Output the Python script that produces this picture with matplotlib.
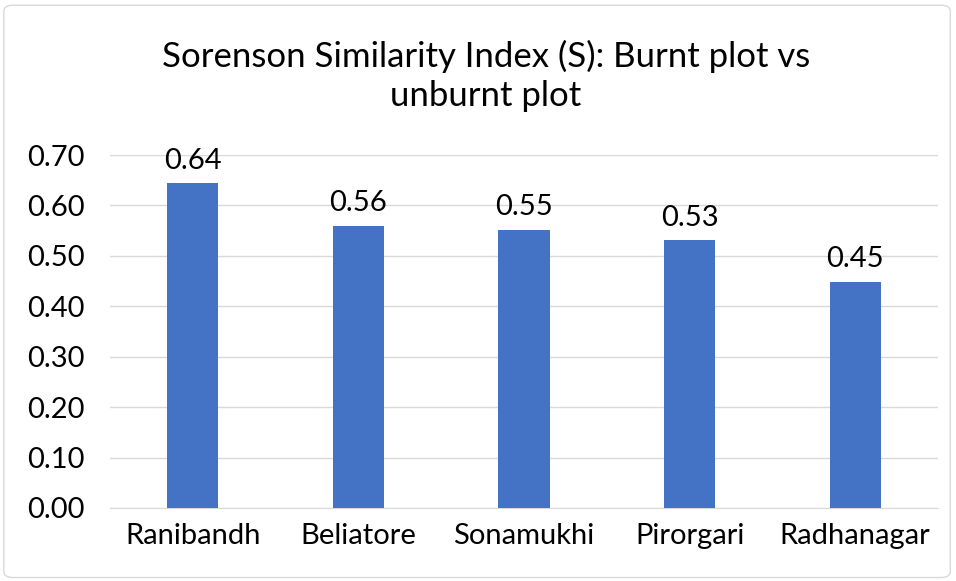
import matplotlib as mpl
mpl.use('Agg')
import matplotlib.pyplot as plt
from matplotlib.patches import FancyBboxPatch

# data
sites = ['Ranibandh', 'Beliatore', 'Sonamukhi', 'Pirorgari', 'Radhanagar']
sorenson = [0.644, 0.56, 0.552, 0.531, 0.449]
yticks = [0.0, 0.1, 0.2, 0.3, 0.4, 0.5, 0.6, 0.7]

plt.rcParams['font.family'] = ['Lato', 'DejaVu Sans']
bar_color = '#4472C4'

fig = plt.figure(figsize=(9.56, 5.81), dpi=100)
ax = fig.add_axes([110 / 956, 1 - 508 / 581, 828 / 956, (508 - 155) / 581])

x = range(len(sites))
ax.bar(x, sorenson, width=0.31, color=bar_color, zorder=3)
for xi, v in zip(x, sorenson):
    ax.annotate('{:.2f}'.format(v), (xi, v), xytext=(0, 7), textcoords='offset points',
                ha='center', va='bottom', fontsize=21, color='#000000')

ax.set_xlim(-0.5, len(sites) - 0.5)
ax.set_ylim(0, 0.7)
ax.set_yticks(yticks)
ax.set_yticklabels(['{:.2f}'.format(t) for t in yticks])
ax.set_xticks(list(x))
ax.set_xticklabels(sites)
ax.tick_params(axis='both', length=0, labelsize=21, colors='#000000')
ax.tick_params(axis='x', pad=11)
ax.tick_params(axis='y', pad=18)
ax.grid(axis='y', color='#D9D9D9', linewidth=1, zorder=0)
for side in ['top', 'right', 'left']:
    ax.spines[side].set_visible(False)
ax.spines['bottom'].set_color('#D9D9D9')

fig.text(486 / 956, 1 - 76 / 581, 'Sorenson Similarity Index (S): Burnt plot vs\nunburnt plot',
         ha='center', va='center', fontsize=25, linespacing=1.3)

# light border around the chart
fig.patches.append(FancyBboxPatch((0.004, 0.006), 0.99, 0.985, boxstyle='round,pad=0,rounding_size=0.01',
                                  transform=fig.transFigure, fill=False, edgecolor='#D9D9D9', linewidth=1))

fig.savefig('out.png', dpi=100)
